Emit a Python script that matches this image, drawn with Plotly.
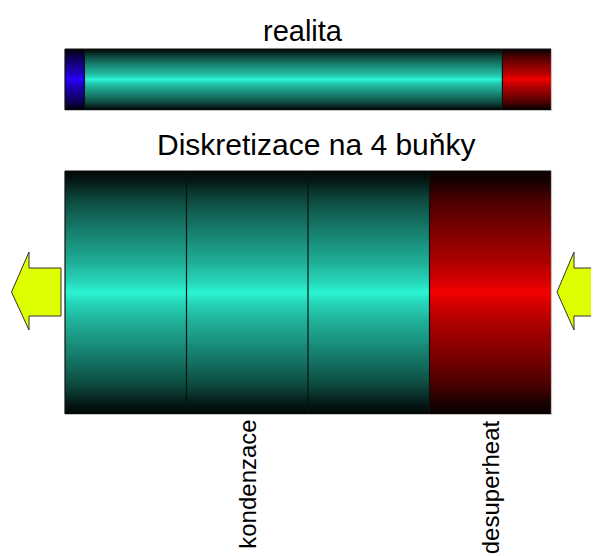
import numpy as np
import plotly.graph_objects as go

# ---- data ----
phases = ["subcooled", "condensing", "superheated"]
phase_rgb = [(40, 0, 255), (44, 245, 212), (245, 0, 0)]

real_title = "realita"
real_phases = ["subcooled", "condensing", "superheated"]
real_fractions = [0.04, 0.86, 0.10]

cells_title = "Diskretizace na 4 buňky"
cell_phases = ["condensing", "condensing", "condensing", "superheated"]
cell_fractions = [0.25, 0.25, 0.25, 0.25]
cell_labels = ["", "kondenzace", "", "desuperheat"]

# ---- layout constants (pixels in the window) ----
W, H = 599, 556
PAGE_OFF = 8  # default body margin of the page
BAR_LEFT, BAR_W = 65, 486
REAL_Y = (49, 110)
CELL_Y = (171, 414)
FONT = "Liberation Sans, Arial, sans-serif"

# vertical shading profile (distance from top in 0..0.5 -> brightness)
prof_pos = [0.0, 0.04, 0.12, 0.25, 0.38, 0.46, 0.5]
prof_val = [0.03, 0.10, 0.30, 0.52, 0.72, 0.88, 1.0]
L = 64

colorscale = []
n = len(phases) * L
for k, rgb in enumerate(phase_rgb):
    for j in range(L):
        f = j / (L - 1)
        c = "rgb(%d,%d,%d)" % tuple(int(round(v * f)) for v in rgb)
        colorscale.append([(k * L + j) / (n - 1), c])


def bar_trace(fractions, phase_list, y_range):
    x_edges = BAR_LEFT + BAR_W * np.concatenate([[0], np.cumsum(fractions)])
    y_edges = np.arange(y_range[0], y_range[1] + 1)
    h = y_range[1] - y_range[0]
    rows = []
    for i in range(h):
        t = (i + 0.5) / h
        d = min(t, 1 - t)
        b = np.interp(d, prof_pos, prof_val)
        lvl = int(round(b * (L - 1)))
        rows.append([phases.index(p) * L + lvl for p in phase_list])
    return go.Heatmap(
        x=x_edges, y=y_edges, z=rows, colorscale=colorscale,
        zmin=0, zmax=n - 1, showscale=False, zsmooth=False, hoverinfo="skip",
    ), x_edges


fig = go.Figure()
shapes = []
annotations = []

for fr, ph, yr in [(real_fractions, real_phases, REAL_Y), (cell_fractions, cell_phases, CELL_Y)]:
    tr, xe = bar_trace(fr, ph, yr)
    fig.add_trace(tr)
    # dividers
    for xv in xe[1:-1]:
        shapes.append(dict(type="line", x0=xv, x1=xv, y0=yr[0], y1=yr[1],
                           line=dict(color="#061512", width=1.2), layer="above"))
    # border: dark top/left, light bottom/right
    shapes.append(dict(type="line", x0=xe[0], x1=xe[-1], y0=yr[0], y1=yr[0],
                       line=dict(color="#111", width=1.2)))
    shapes.append(dict(type="line", x0=xe[0], x1=xe[0], y0=yr[0], y1=yr[1],
                       line=dict(color="#111", width=1.2)))
    shapes.append(dict(type="line", x0=xe[0], x1=xe[-1] + 1, y0=yr[1] + 0.5, y1=yr[1] + 0.5,
                       line=dict(color="#c4c4c4", width=1.2)))
    shapes.append(dict(type="line", x0=xe[-1] + 0.5, x1=xe[-1] + 0.5, y0=yr[0], y1=yr[1] + 1,
                       line=dict(color="#c4c4c4", width=1.2)))

# cell labels
cell_edges = BAR_LEFT + BAR_W * np.concatenate([[0], np.cumsum(cell_fractions)])
for i, lab in enumerate(cell_labels):
    if lab:
        annotations.append(dict(
            x=(cell_edges[i] + cell_edges[i + 1]) / 2, y=CELL_Y[1] + 4,
            text=lab, textangle=-90, showarrow=False, xanchor="center", yanchor="top",
            font=dict(family=FONT, size=24, color="black")))

annotations.append(dict(x=303, y=31, text=real_title, showarrow=False,
                        xanchor="center", yanchor="middle",
                        font=dict(family=FONT, size=29, color="black")))
annotations.append(dict(x=316, y=144, text=cells_title, showarrow=False,
                        xanchor="center", yanchor="middle",
                        font=dict(family=FONT, size=30, color="black")))

# arrows (decorative)
arrow_style = dict(type="path", fillcolor="#ddff00", line=dict(color="#333", width=1), layer="above")
shapes.append(dict(path="M 11.5,292 L 29,252 L 29,268 L 61,268 L 61,316 L 29,316 L 29,330 Z", **arrow_style))
shapes.append(dict(path="M 557,292 L 574,252 L 574,268 L 610,268 L 610,316 L 574,316 L 574,330 Z", **arrow_style))

fig.update_layout(
    width=W, height=H, margin=dict(l=0, r=0, t=0, b=0),
    paper_bgcolor="white", plot_bgcolor="white",
    xaxis=dict(range=[PAGE_OFF, W + PAGE_OFF], visible=False, fixedrange=True),
    yaxis=dict(range=[H + PAGE_OFF, PAGE_OFF], visible=False, fixedrange=True),
    shapes=shapes, annotations=annotations, showlegend=False,
)

fig.write_html("out.html")
